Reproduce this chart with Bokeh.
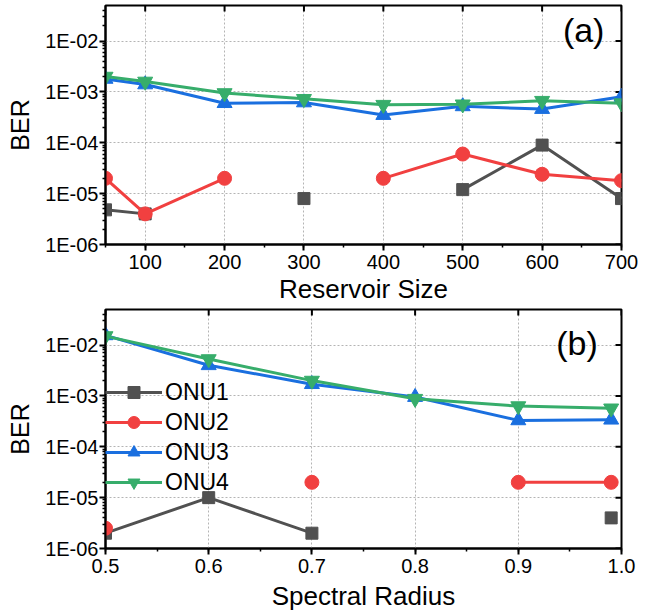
import math
from bokeh.plotting import figure
from bokeh.layouts import column
from bokeh.models import (FixedTicker, SingleIntervalTicker, NumeralTickFormatter,
                          BasicTickFormatter, CustomJSTickFormatter, Label, Legend, LegendItem)
from bokeh.embed import file_html
from bokeh.resources import INLINE

nan = float("nan")

# ---------------- data ----------------
series_names = ["ONU1", "ONU2", "ONU3", "ONU4"]

reservoir_size = [50, 100, 200, 300, 400, 500, 600, 700]
a_onu1 = [4.8e-6, 4.0e-6, nan, 8.0e-6, nan, 1.2e-5, 9.0e-5, 8.0e-6]
a_onu2 = [2.0e-5, 4.0e-6, 2.0e-5, nan, 2.0e-5, 6.0e-5, 2.4e-5, 1.8e-5]
a_onu3 = [1.8e-3, 1.4e-3, 6.0e-4, 6.2e-4, 3.5e-4, 5.2e-4, 4.6e-4, 8.0e-4]
a_onu4 = [2.0e-3, 1.6e-3, 9.5e-4, 7.3e-4, 5.6e-4, 5.7e-4, 6.7e-4, 6.0e-4]

spectral_radius = [0.5, 0.6, 0.7, 0.8, 0.9, 0.99]
b_onu1 = [2.0e-6, 1.0e-5, 2.0e-6, nan, nan, 4.0e-6]
b_onu2 = [2.5e-6, nan, 2.0e-5, nan, 2.0e-5, 2.0e-5]
b_onu3 = [1.55e-2, 4.0e-3, 1.7e-3, 9.5e-4, 3.3e-4, 3.4e-4]
b_onu4 = [1.5e-2, 5.3e-3, 2.0e-3, 8.8e-4, 6.3e-4, 5.7e-4]

y_major = [1e-6, 1e-5, 1e-4, 1e-3, 1e-2]
a_xticks = [100, 200, 300, 400, 500, 600, 700]
b_xticks = [0.5, 0.6, 0.7, 0.8, 0.9, 1.0]

# ---------------- style ----------------
FONT = "Liberation Sans"
COLORS = ["#515151", "#F14040", "#1A6FDF", "#37AD6B"]
MARKERS = ["square", "circle", "triangle", "inverted_triangle"]
SIZES = [12, 14, 15, 15]
Y_TOP = 5e-2
Y_BOTTOM = 1e-6

y_minor = [m * 10.0 ** e for e in range(-6, -2) for m in range(2, 10)] + [0.02, 0.03, 0.04]

exp_fmt = CustomJSTickFormatter(code="""
const e = Math.round(Math.log10(tick));
const a = Math.abs(e);
return "1E" + (e < 0 ? "-" : "+") + (a < 10 ? "0" + a : "" + a);
""")


def make_panel(x, ys, x_range, interval, xticks, x_fmt, xlabel, fh, mbt, xl_standoff,
               tag, tag_x, tag_y, legend_loc=None):
    p = figure(frame_width=516, frame_height=fh, y_axis_type="log",
               x_range=x_range, y_range=(Y_BOTTOM, Y_TOP),
               output_backend="svg", toolbar_location=None,
               min_border_left=105, min_border_right=22,
               min_border_top=mbt, min_border_bottom=0)
    p.outline_line_color = "black"
    p.outline_line_width = 2
    p.background_fill_color = "white"
    p.border_fill_color = "white"

    xt = SingleIntervalTicker(interval=interval, num_minor_ticks=2)
    yt = FixedTicker(ticks=y_major, minor_ticks=y_minor)

    xa = p.xaxis[0]
    xa.ticker = xt
    xa.formatter = x_fmt
    ya = p.yaxis[0]
    ya.ticker = yt
    ya.formatter = exp_fmt
    for ax in (xa, ya):
        ax.axis_line_width = 2
        ax.axis_line_color = "black"
        ax.major_tick_in = 0
        ax.major_tick_out = 6
        ax.minor_tick_in = 0
        ax.minor_tick_out = 3
        ax.major_tick_line_width = 2
        ax.minor_tick_line_width = 1.5
        ax.major_tick_line_color = "black"
        ax.minor_tick_line_color = "black"
        ax.major_label_text_font = FONT
        ax.major_label_text_font_size = "20px"
        ax.major_label_text_color = "black"
        ax.axis_label_text_font = FONT
        ax.axis_label_text_font_style = "normal"
        ax.axis_label_text_color = "black"
    xa.axis_label = xlabel
    ya.axis_label = "BER"
    xa.axis_label_text_font_size = "26px"
    ya.axis_label_text_font_size = "25px"
    xa.major_label_standoff = 4
    xa.axis_label_standoff = xl_standoff
    ya.major_label_standoff = 1
    ya.axis_label_standoff = 8

    # mirror ticks (inward) on top and right edges
    p.ray(x=xticks, y=[Y_TOP] * len(xticks), length=6, length_units="screen",
          angle=-math.pi / 2, line_color="black", line_width=2)
    p.ray(x=[x_range[1]] * len(y_major), y=y_major, length=6, length_units="screen",
          angle=math.pi, line_color="black", line_width=2)

    for g in (p.xgrid[0], p.ygrid[0]):
        g.grid_line_color = "#b4b4b4"
        g.grid_line_dash = "2 2"
        g.grid_line_width = 1
    p.xgrid[0].ticker = xt
    p.ygrid[0].ticker = FixedTicker(ticks=y_major)

    items = []
    for name, y, c, m, s in zip(series_names, ys, COLORS, MARKERS, SIZES):
        lr = p.line(x, y, line_color=c, line_width=3)
        sr = p.scatter(x, y, marker=m, size=s, fill_color=c, line_color=c)
        items.append(LegendItem(label=name, renderers=[lr, sr]))

    if legend_loc is not None:
        lg = Legend(items=items, location=legend_loc, orientation="vertical")
        lg.background_fill_alpha = 0
        lg.border_line_alpha = 0
        lg.padding = 0
        lg.margin = 0
        lg.spacing = 0
        lg.glyph_width = 57
        lg.glyph_height = 30
        lg.label_height = 30
        lg.label_standoff = 3
        lg.label_text_font = FONT
        lg.label_text_font_size = "23px"
        lg.label_text_color = "black"
        p.add_layout(lg)

    p.add_layout(Label(x=tag_x, y=tag_y, text=tag, text_font=FONT,
                       text_font_size="34px", text_align="right",
                       text_baseline="middle", text_color="black"))
    return p


p1 = make_panel(reservoir_size, [a_onu1, a_onu2, a_onu3, a_onu4], (50, 700), 100, a_xticks,
                BasicTickFormatter(), "Reservoir Size", 239, 5, 2,
                "(a)", 678.5, 1.68e-2)
p2 = make_panel(spectral_radius, [b_onu1, b_onu2, b_onu3, b_onu4], (0.5, 1.0), 0.1, b_xticks,
                NumeralTickFormatter(format="0.0"), "Spectral Radius", 239, 3, 5,
                "(b)", 0.977, 1.1e-2, legend_loc=(0, 51))

layout = column(p1, p2, spacing=0)
open("out.html", "w").write(file_html(layout, INLINE))
